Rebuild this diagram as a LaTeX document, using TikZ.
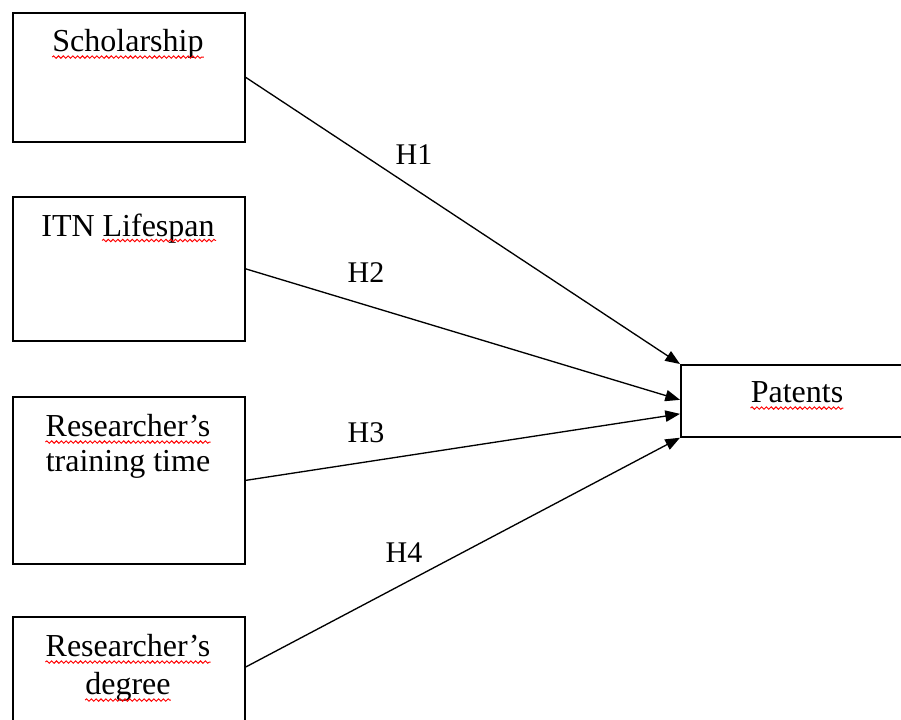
\documentclass[tikz,border=0pt]{standalone}
\usepackage{fontspec}
\setmainfont{Liberation Serif}
\usetikzlibrary{arrows.meta,calc,decorations.pathmorphing}
\begin{document}
\begin{tikzpicture}[x=0.75pt,y=-0.75pt,
  box/.style={draw, line width=1.3pt, rectangle, minimum width=174pt, anchor=north west, inner sep=0pt},
  lbl/.style={font=\fontsize{24}{27}\selectfont, anchor=base, inner sep=0pt},
  hlab/.style={font=\fontsize{22.5}{26}\selectfont, anchor=base, inner sep=0pt},
  conn/.style={line width=1pt, -{Triangle[length=11pt,width=8.5pt]}},
  squig/.style={red, line width=0.7pt, decorate, decoration={snake, segment length=3.6pt, amplitude=0.9pt}}]
\clip (0,0) rectangle (901,720);
\fill[white] (0,0) rectangle (901,720);
% boxes
\node[box, minimum height=96.75pt] (sch) at (12,12) {};
\node[box, minimum height=108pt] (itn) at (12,196) {};
\node[box, minimum height=125.25pt] (rtt) at (12,396) {};
\node[box, minimum height=84pt] (rdg) at (12,616) {};
\node[box, minimum width=176.25pt, minimum height=54pt] (pat) at (680,364) {};
% texts
\node[lbl] (t1) at (128,52) {Scholarship};
\node[lbl] (t2) at (128,237) {ITN Lifespan};
\node[lbl] (t3a) at (128,437) {Researcher’s};
\node[lbl] (t3b) at (128,472) {training time};
\node[lbl] (t4a) at (128,657) {Researcher’s};
\node[lbl] (t4b) at (128,695) {degree};
\node[lbl] (t5) at (797,403) {Patents};
% spell-check squiggles
\draw[squig] ([yshift=-3.8pt]t1.base west) -- ([yshift=-3.8pt]t1.base east);
\draw[squig] (102,240.5) -- (216,240.5);
\draw[squig] ([yshift=-3.8pt]t3a.base west) -- ([yshift=-3.8pt]t3a.base east);
\draw[squig] ([yshift=-3.8pt]t4a.base west) -- ([yshift=-3.8pt]t4a.base east);
\draw[squig] ([yshift=-3.8pt]t4b.base west) -- ([yshift=-3.8pt]t4b.base east);
\draw[squig] ([yshift=-3.8pt]t5.base west) -- ([yshift=-3.8pt]t5.base east);
% connectors
\coordinate (rdgE) at ($(rdg.north east)+(0,51)$);
\draw[conn] (sch.east) -- (pat.north west);
\draw[conn] (itn.east) -- ($(pat.west)+(0,-1)$);
\draw[conn] (rtt.east) -- ($(pat.west)+(0,13)$);
\draw[conn] (rdgE) -- (pat.south west);
% labels
\node[hlab] (h1) at (414,165) {H1};
\node[hlab] (h2) at (366,283) {H2};
\node[hlab] (h3) at (366,443) {H3};
\node[hlab] (h4) at (404,563) {H4};
\end{tikzpicture}
\end{document}
